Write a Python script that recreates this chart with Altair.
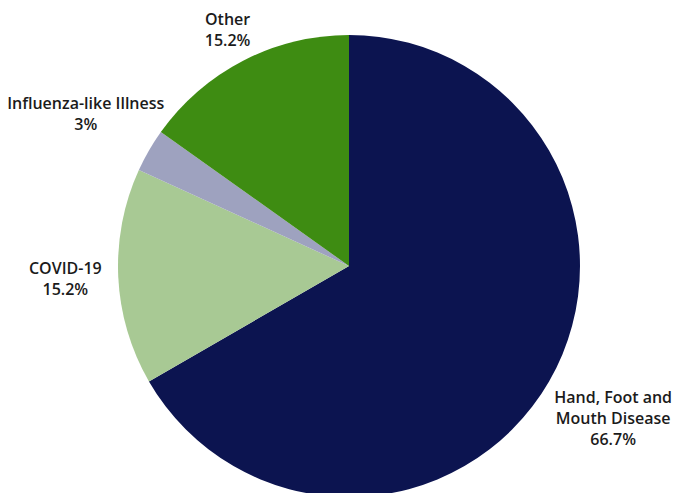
import altair as alt
import pandas as pd
import math

categories = ["Hand, Foot and Mouth Disease", "COVID-19", "Influenza-like Illness", "Other"]
label_lines = ["Hand, Foot and\nMouth Disease", "COVID-19", "Influenza-like Illness", "Other"]
counts = [22, 5, 1, 5]
colors = ["#0c1450", "#a8c994", "#9ea2bf", "#3e8c12"]

df = pd.DataFrame({
    "category": categories,
    "label": label_lines,
    "value": counts,
    "order": list(range(len(categories))),
})

CX, CY, R = 349, 266, 231
TAU = 2 * math.pi
LH = 21

base = alt.Chart(df).transform_joinaggregate(
    total="sum(value)"
).transform_window(
    cum="sum(value)", sort=[alt.SortField("order")], frame=[None, 0]
).transform_calculate(
    mid=f"(datum.cum - datum.value / 2) / datum.total * {TAU}",
    pct="format(datum.value / datum.total * 100, '.1~f') + '%'",
).transform_calculate(
    txt="datum.label + '\\n' + datum.pct"
)

pie = alt.Chart(df).mark_arc(outerRadius=R).encode(
    theta=alt.Theta("value:Q", stack=True),
    order=alt.Order("order:Q", sort="ascending"),
    color=alt.Color("category:N", scale=alt.Scale(domain=categories, range=colors), legend=None),
    x=alt.value(CX),
    y=alt.value(CY),
)

label_radius = {"Hand, Foot and Mouth Disease": 305, "COVID-19": 284,
                "Influenza-like Illness": 304, "Other": 265}

texts = []
for cat, lab in zip(categories, label_lines):
    n_lines = lab.count("\n") + 2
    texts.append(
        base.transform_filter(alt.datum.category == cat).mark_text(
            radius=label_radius[cat],
            font="Open Sans",
            fontSize=16,
            fontWeight=600,
            color="#1b1b1b",
            align="center",
            baseline="middle",
            lineBreak="\n",
            lineHeight=LH,
            dy=-(n_lines - 1) * LH / 2,
        ).encode(
            theta=alt.Theta("mid:Q", scale=alt.Scale(domain=[0, TAU], range=[0, TAU])),
            text="txt:N",
            x=alt.value(CX),
            y=alt.value(CY),
        )
    )

labels = alt.layer(*texts)

chart = alt.layer(pie, labels).resolve_scale(theta="independent").properties(
    width=677, height=493, padding=0, autosize=alt.AutoSizeParams(type="none")
).configure_view(stroke=None)

chart.save("out.html", embed_options={"renderer": "svg", "actions": False})
